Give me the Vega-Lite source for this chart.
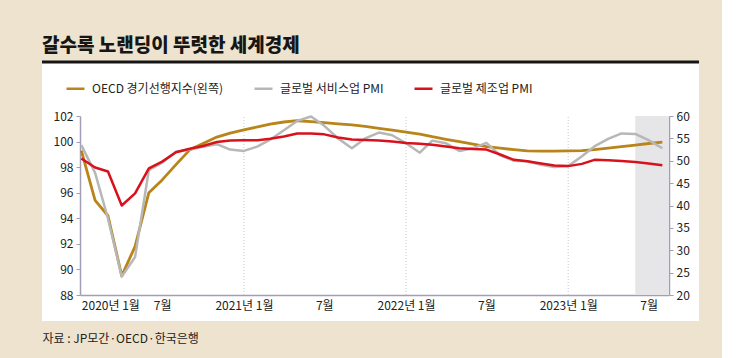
{
  "$schema": "https://vega.github.io/schema/vega-lite/v6.json",
  "autosize": {"type": "none"},
  "width": 657,
  "height": 259,
  "padding": {"left": 42, "top": 62, "right": 23, "bottom": 37},
  "background": "#eee3cf",
  "config": {
    "view": {"fill": "#ffffff", "stroke": "#161616", "strokeWidth": 3, "strokeDash": [657, 3000]},
    "font": "Noto Sans CJK KR",
    "axis": {
      "labelFont": "'Liberation Sans Narrow', 'Noto Sans CJK KR', sans-serif",
      "labelFontSize": 12,
      "labelColor": "#222222",
      "labelOverlap": false,
      "domainColor": "#a19eb6",
      "domainWidth": 1.5,
      "tickColor": "#a19eb6",
      "tickWidth": 1,
      "grid": false
    },
    "axisY": {"labelOverlap": false},
    "axisQuantitative": {"labelOverlap": false}
  },
  "title": {
    "text": "갈수록 노랜딩이 뚜렷한 세계경제",
    "anchor": "start",
    "frame": "group",
    "font": "Noto Sans CJK KR",
    "fontSize": 19,
    "fontWeight": 900,
    "color": "#161616",
    "baseline": "alphabetic",
    "offset": -9
  },
  "datasets": {
    "cli": [
      {"date": "2020-01-01", "cli": 99.3}, {"date": "2020-02-01", "cli": 95.4}, {"date": "2020-03-01", "cli": 94.2}, {"date": "2020-04-01", "cli": 89.5},
      {"date": "2020-05-01", "cli": 91.8}, {"date": "2020-06-01", "cli": 96.0}, {"date": "2020-07-01", "cli": 97.0}, {"date": "2020-08-01", "cli": 98.2},
      {"date": "2020-09-01", "cli": 99.35}, {"date": "2020-10-01", "cli": 99.85}, {"date": "2020-11-01", "cli": 100.35}, {"date": "2020-12-01", "cli": 100.66},
      {"date": "2021-01-01", "cli": 100.92}, {"date": "2021-02-01", "cli": 101.15}, {"date": "2021-03-01", "cli": 101.37}, {"date": "2021-04-01", "cli": 101.53},
      {"date": "2021-05-01", "cli": 101.63}, {"date": "2021-06-01", "cli": 101.56}, {"date": "2021-07-01", "cli": 101.48}, {"date": "2021-08-01", "cli": 101.39},
      {"date": "2021-09-01", "cli": 101.31}, {"date": "2021-10-01", "cli": 101.19}, {"date": "2021-11-01", "cli": 101.04}, {"date": "2021-12-01", "cli": 100.9},
      {"date": "2022-01-01", "cli": 100.74}, {"date": "2022-02-01", "cli": 100.59}, {"date": "2022-03-01", "cli": 100.38}, {"date": "2022-04-01", "cli": 100.18},
      {"date": "2022-05-01", "cli": 100.0}, {"date": "2022-06-01", "cli": 99.8}, {"date": "2022-07-01", "cli": 99.6}, {"date": "2022-08-01", "cli": 99.48},
      {"date": "2022-09-01", "cli": 99.37}, {"date": "2022-10-01", "cli": 99.27}, {"date": "2022-11-01", "cli": 99.25}, {"date": "2022-12-01", "cli": 99.26},
      {"date": "2023-01-01", "cli": 99.28}, {"date": "2023-02-01", "cli": 99.29}, {"date": "2023-03-01", "cli": 99.37}, {"date": "2023-04-01", "cli": 99.49},
      {"date": "2023-05-01", "cli": 99.61}, {"date": "2023-06-01", "cli": 99.73}, {"date": "2023-07-01", "cli": 99.85}, {"date": "2023-08-01", "cli": 99.95}
    ],
    "pmi": [
      {"date": "2020-01-01", "svc": 53.5, "mfg": 50.5}, {"date": "2020-02-01", "svc": 47.3, "mfg": 48.5}, {"date": "2020-03-01", "svc": 37.1, "mfg": 47.6}, {"date": "2020-04-01", "svc": 24.1, "mfg": 40.0},
      {"date": "2020-05-01", "svc": 28.5, "mfg": 42.7}, {"date": "2020-06-01", "svc": 47.9, "mfg": 48.3}, {"date": "2020-07-01", "svc": 49.6, "mfg": 49.8}, {"date": "2020-08-01", "svc": 52.0, "mfg": 51.9},
      {"date": "2020-09-01", "svc": 52.5, "mfg": 52.7}, {"date": "2020-10-01", "svc": 53.1, "mfg": 53.3}, {"date": "2020-11-01", "svc": 53.7, "mfg": 54.2}, {"date": "2020-12-01", "svc": 52.5, "mfg": 54.5},
      {"date": "2021-01-01", "svc": 52.2, "mfg": 54.6}, {"date": "2021-02-01", "svc": 53.2, "mfg": 54.6}, {"date": "2021-03-01", "svc": 54.7, "mfg": 54.9}, {"date": "2021-04-01", "svc": 56.8, "mfg": 55.4},
      {"date": "2021-05-01", "svc": 58.9, "mfg": 56.1}, {"date": "2021-06-01", "svc": 59.9, "mfg": 56.1}, {"date": "2021-07-01", "svc": 57.8, "mfg": 55.9}, {"date": "2021-08-01", "svc": 55.0, "mfg": 55.2},
      {"date": "2021-09-01", "svc": 52.8, "mfg": 54.75}, {"date": "2021-10-01", "svc": 55.0, "mfg": 54.65}, {"date": "2021-11-01", "svc": 56.3, "mfg": 54.55}, {"date": "2021-12-01", "svc": 55.7, "mfg": 54.3},
      {"date": "2022-01-01", "svc": 53.9, "mfg": 53.95}, {"date": "2022-02-01", "svc": 51.8, "mfg": 53.8}, {"date": "2022-03-01", "svc": 54.5, "mfg": 53.55}, {"date": "2022-04-01", "svc": 53.9, "mfg": 53.2},
      {"date": "2022-05-01", "svc": 52.2, "mfg": 52.8}, {"date": "2022-06-01", "svc": 52.8, "mfg": 52.6}, {"date": "2022-07-01", "svc": 54.0, "mfg": 52.5}, {"date": "2022-08-01", "svc": 51.2, "mfg": 51.4},
      {"date": "2022-09-01", "svc": 50.0, "mfg": 50.2}, {"date": "2022-10-01", "svc": 49.9, "mfg": 49.9}, {"date": "2022-11-01", "svc": 49.1, "mfg": 49.4}, {"date": "2022-12-01", "svc": 48.6, "mfg": 48.95},
      {"date": "2023-01-01", "svc": 48.8, "mfg": 48.8}, {"date": "2023-02-01", "svc": 51.0, "mfg": 49.3}, {"date": "2023-03-01", "svc": 53.2, "mfg": 50.2}, {"date": "2023-04-01", "svc": 54.9, "mfg": 50.1},
      {"date": "2023-05-01", "svc": 56.1, "mfg": 49.95}, {"date": "2023-06-01", "svc": 56.0, "mfg": 49.7}, {"date": "2023-07-01", "svc": 54.6, "mfg": 49.4}, {"date": "2023-08-01", "svc": 52.8, "mfg": 49.0}
    ],
    "shade": [{"start": "2023-06-01", "end": "2023-08-16"}],
    "grid": [{"date": "2021-01-01"}, {"date": "2022-01-01"}, {"date": "2023-01-01"}]
  },
  "layer": [
    {
      "layer": [
        {
          "data": {"name": "shade"},
          "mark": {"type": "rect", "color": "#e6e6e9"},
          "encoding": {
            "x": {"field": "start", "type": "temporal"},
            "x2": {"field": "end"},
            "y": {
              "datum": 88,
              "type": "quantitative",
              "axis": {"orient": "left", "offset": -38, "values": [88, 90, 92, 94, 96, 98, 100, 102], "tickSize": 4, "labelPadding": 3, "labelOverlap": false, "title": null}
            },
            "y2": {"datum": 102}
          }
        },
        {
          "data": {"name": "grid"},
          "mark": {"type": "rule", "color": "#c6c6c6", "strokeWidth": 1, "strokeDash": [1, 2]},
          "encoding": {
            "x": {"field": "date", "type": "temporal"},
            "y": {
              "datum": 88,
              "type": "quantitative",
              "axis": {"orient": "left", "offset": -38, "values": [88, 90, 92, 94, 96, 98, 100, 102], "tickSize": 4, "labelPadding": 3, "labelOverlap": false, "title": null}
            },
            "y2": {"datum": 102}
          }
        },
        {
          "data": {"name": "cli"},
          "mark": {"type": "line", "strokeWidth": 2.8, "strokeJoin": "round"},
          "encoding": {
            "x": {
              "field": "date",
              "type": "temporal",
              "scale": {
                "type": "utc",
                "domain": [{"year": 2019, "month": 12, "date": 29, "utc": true}, {"year": 2023, "month": 8, "date": 16, "utc": true}],
                "range": [38, 627]
              },
              "axis": {
                "orient": "bottom",
                "offset": -26,
                "values": [
                  {"year": 2020, "month": 1, "date": 1, "utc": true}, {"year": 2020, "month": 7, "date": 1, "utc": true},
                  {"year": 2021, "month": 1, "date": 1, "utc": true}, {"year": 2021, "month": 7, "date": 1, "utc": true},
                  {"year": 2022, "month": 1, "date": 1, "utc": true}, {"year": 2022, "month": 7, "date": 1, "utc": true},
                  {"year": 2023, "month": 1, "date": 1, "utc": true}, {"year": 2023, "month": 7, "date": 1, "utc": true}
                ],
                "labelExpr": "utcmonth(datum.value) == 0 ? utcyear(datum.value) + '년 1월' : '7월'",
                "labelFlush": 5,
                "labelPadding": 5,
                "ticks": false,
                "title": "자료 : JP모간·OECD·한국은행",
                "titleX": 0,
                "titleY": 43,
                "titleAlign": "left",
                "titleAnchor": "start",
                "titleBaseline": "middle",
                "titleFont": "'Liberation Sans Narrow', 'Noto Sans CJK KR', sans-serif",
                "titleFontSize": 12,
                "titleFontWeight": "normal",
                "titleColor": "#222222"
              }
            },
            "y": {
              "field": "cli",
              "type": "quantitative",
              "scale": {"domain": [88, 102], "range": [233, 54], "zero": false, "nice": false},
              "axis": {"orient": "left", "offset": -38, "values": [88, 90, 92, 94, 96, 98, 100, 102], "tickSize": 4, "labelPadding": 3, "labelOverlap": false, "title": null}
            },
            "color": {
              "datum": "OECD 경기선행지수(왼쪽)",
              "scale": {
                "domain": ["OECD 경기선행지수(왼쪽)", "글로벌 서비스업 PMI", "글로벌 제조업 PMI"],
                "range": ["#b98419", "#b7b7b7", "#d8111c"]
              },
              "legend": {
                "orient": "none",
                "legendX": 23,
                "legendY": 16,
                "direction": "horizontal",
                "title": null,
                "symbolType": "stroke",
                "symbolSize": 324,
                "symbolStrokeWidth": 2.5,
                "labelFont": "'Liberation Sans Narrow', 'Noto Sans CJK KR', sans-serif",
                "labelFontSize": 12,
                "labelColor": "#222222",
                "labelOffset": 6,
                "labelLimit": 300,
                "columnPadding": 25,
                "padding": 0
              }
            }
          }
        }
      ]
    },
    {
      "data": {"name": "pmi"},
      "layer": [
        {
          "mark": {"type": "line", "strokeWidth": 2.5, "strokeJoin": "round"},
          "encoding": {
            "x": {"field": "date", "type": "temporal"},
            "y": {
              "field": "svc",
              "type": "quantitative",
              "scale": {"domain": [20, 60], "range": [233, 54], "zero": false, "nice": false},
              "axis": {"orient": "right", "offset": -30, "values": [20, 25, 30, 35, 40, 45, 50, 55, 60], "tickSize": 4, "labelPadding": 3, "labelOverlap": false, "title": null}
            },
            "color": {"datum": "글로벌 서비스업 PMI"}
          }
        },
        {
          "mark": {"type": "line", "strokeWidth": 2.5, "strokeJoin": "round"},
          "encoding": {
            "x": {"field": "date", "type": "temporal"},
            "y": {
              "field": "mfg",
              "type": "quantitative",
              "axis": {"orient": "right", "offset": -30, "values": [20, 25, 30, 35, 40, 45, 50, 55, 60], "tickSize": 4, "labelPadding": 3, "labelOverlap": false, "title": null}
            },
            "color": {"datum": "글로벌 제조업 PMI"}
          }
        }
      ]
    }
  ],
  "resolve": {"scale": {"y": "independent"}}
}
